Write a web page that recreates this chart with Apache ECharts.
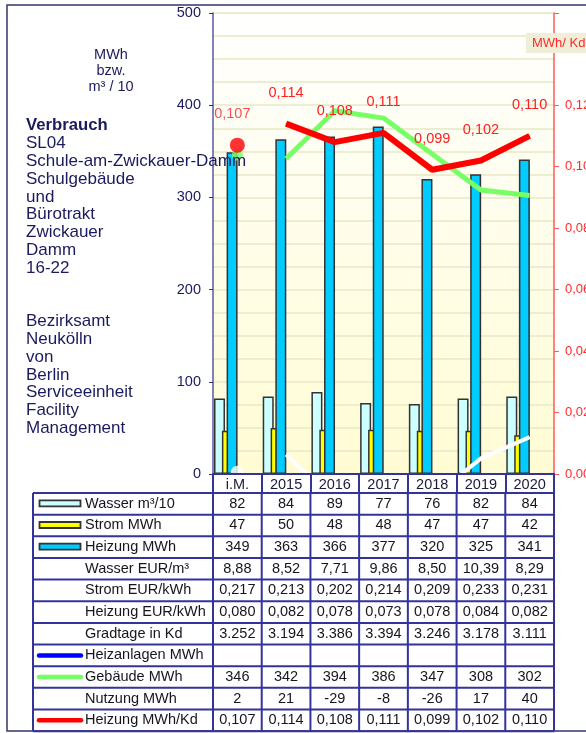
<!DOCTYPE html>
<html>
<head>
<meta charset="UTF-8">
<title>Verbrauch SL04</title>
<script src="https://cdn.jsdelivr.net/npm/echarts@6/dist/echarts.min.js"></script>
<style>
  html, body { margin: 0; padding: 0; background: #fff; }
  #main { width: 586px; height: 733px; }
</style>
</head>
<body>
<div id="main"></div>
<script type="text/javascript">
var categories = ['i.M.', '2015', '2016', '2017', '2018', '2019', '2020'];
var wasser = [82, 84, 89, 77, 76, 82, 84];
var strom = [47, 50, 48, 48, 47, 47, 42];
var heizung = [349, 363, 366, 377, 320, 325, 341];
var wasserEur = [8.88, 8.52, 7.71, 9.86, 8.50, 10.39, 8.29];
var stromEur = [0.217, 0.213, 0.202, 0.214, 0.209, 0.233, 0.231];
var heizungEur = [0.080, 0.082, 0.078, 0.073, 0.078, 0.084, 0.082];
var gradtage = [3252, 3194, 3386, 3394, 3246, 3178, 3111];
var heizanlagen = [null, null, null, null, null, null, null];
var gebaeude = [346, 342, 394, 386, 347, 308, 302];
var nutzung = [2, 21, -29, -8, -26, 17, 40];
var heizungKd = [0.107, 0.114, 0.108, 0.111, 0.099, 0.102, 0.110];

var infoLines = ['SL04', 'Schule-am-Zwickauer-Damm', 'Schulgebäude', 'und', 'Bürotrakt',
    'Zwickauer', 'Damm', '16-22', '', '', 'Bezirksamt', 'Neukölln', 'von', 'Berlin',
    'Serviceeinheit', 'Facility', 'Management'];

var FONT = '"Liberation Sans", Arial, sans-serif';
var NAVY = '#33339a';

function dec(n) { return function (v) { return v.toFixed(n).replace('.', ','); }; }
function thousands(v) { return String(v).replace(/\B(?=(\d{3})+(?!\d))/g, '.'); }
function plain(v) { return String(v); }
// i.M. is drawn as a separate dot, the years as a line
function skipFirst(arr) { return arr.map(function (v, i) { return i === 0 ? null : v; }); }

var chart = echarts.init(document.getElementById('main'));

var option = {
    animation: false,
    backgroundColor: '#fff',
    grid: {
        left: 213, right: 32, top: 13, bottom: 259,
        outerBoundsMode: 'none',
        show: true, borderWidth: 0,
        backgroundColor: new echarts.graphic.LinearGradient(0, 0, 0, 1, [
            { offset: 0, color: '#ffffff' },
            { offset: 1, color: '#fffcd4' }
        ])
    },
    xAxis: {
        type: 'category',
        data: categories,
        z: 5,
        axisLine: { lineStyle: { color: NAVY, width: 2 } },
        axisTick: { show: true, interval: 0, length: 19, lineStyle: { color: NAVY, width: 2 } },
        axisLabel: { interval: 0, color: '#1a1a3a', fontSize: 14.5, fontFamily: FONT, margin: 3 }
    },
    yAxis: [{
        type: 'value', min: 0, max: 500, interval: 100,
        axisLine: { show: true, lineStyle: { color: '#5a5aa0', width: 1.5 } },
        axisTick: { show: true, length: 4, lineStyle: { color: '#33336b' } },
        axisLabel: { color: '#1a1a5e', fontSize: 14.5, fontFamily: FONT, margin: 12 },
        splitLine: { show: true, lineStyle: { color: '#ededcf', width: 2 } },
        minorTick: { show: false, splitNumber: 4 },
        minorSplitLine: { show: true, lineStyle: { color: '#ededcf', width: 2 } }
    }, {
        type: 'value', min: 0, max: 0.15, interval: 0.02, position: 'right',
        axisLine: { show: true, lineStyle: { color: '#ff5a5a', width: 1.5 } },
        axisTick: { show: true, length: 5, lineStyle: { color: '#ff5a5a' } },
        axisLabel: {
            color: '#ff2a2a', fontSize: 13, fontFamily: FONT, margin: 11,
            formatter: function (v) { return v > 0.13 ? '' : v.toFixed(2).replace('.', ','); }
        },
        splitLine: { show: false }
    }],
    series: [
        { name: 'Wasser m³/10', type: 'bar', data: wasser, barWidth: 11, barGap: '-28%',
          itemStyle: { color: '#ccffff', borderColor: '#333', borderWidth: 1.5 } },
        { name: 'Strom MWh', type: 'bar', data: strom, barWidth: 6.5, barGap: '-28%',
          itemStyle: { color: '#ffff00', borderColor: '#333', borderWidth: 1.5 } },
        { name: 'Heizung MWh', type: 'bar', data: heizung, barWidth: 11, barGap: '-28%',
          itemStyle: { color: '#00ccff', borderColor: '#333', borderWidth: 1.5 } },
        // empty spacer so the bars sit in the left half of each category
        { name: 'spacer', type: 'bar', data: [], barWidth: 26.2, barGap: '-28%', silent: true,
          itemStyle: { color: 'transparent' } },
        { name: 'Gebäude MWh', type: 'line', data: skipFirst(gebaeude), symbol: 'none',
          lineStyle: { color: '#77ff66', width: 5 } },
        { name: 'Gebäude i.M.', type: 'scatter', data: [[0, gebaeude[0]]], symbolSize: 11,
          itemStyle: { color: '#77ff66' } },
        { name: 'Nutzung MWh', type: 'line', data: skipFirst(nutzung), symbol: 'none',
          lineStyle: { color: '#ffffff', width: 4 } },
        { name: 'Nutzung i.M.', type: 'scatter', data: [[0, nutzung[0]]], symbolSize: 13,
          itemStyle: { color: '#ffffff' } },
        { name: 'Heizung MWh/Kd', type: 'line', yAxisIndex: 1, data: skipFirst(heizungKd),
          symbol: 'circle', symbolSize: 1, showSymbol: true,
          lineStyle: { color: '#ff0000', width: 6 }, itemStyle: { color: '#ff0000' },
          label: { show: true, position: 'top', distance: 23, color: '#ff2020',
                   fontSize: 14.5, fontFamily: FONT, formatter: function (p) { return dec(3)(p.value); } } },
        { name: 'Heizung MWh/Kd i.M.', type: 'scatter', yAxisIndex: 1, data: [[0, heizungKd[0]]],
          symbolSize: 15, itemStyle: { color: '#ff0000' },
          label: { show: true, position: 'top', distance: 16, offset: [-5, 0], color: '#ff2020',
                   fontSize: 14.5, fontFamily: FONT, formatter: function (p) { return dec(3)(p.value[1]); } } }
    ]
};
chart.setOption(option);

// table under the plot, columns taken from the category axis
var rows = [
    { label: 'Wasser m³/10', values: wasser, fmt: plain, bar: '#ccffff' },
    { label: 'Strom MWh', values: strom, fmt: plain, bar: '#ffff00' },
    { label: 'Heizung MWh', values: heizung, fmt: plain, bar: '#00ccff' },
    { label: 'Wasser EUR/m³', values: wasserEur, fmt: dec(2) },
    { label: 'Strom EUR/kWh', values: stromEur, fmt: dec(3) },
    { label: 'Heizung EUR/kWh', values: heizungEur, fmt: dec(3) },
    { label: 'Gradtage in Kd', values: gradtage, fmt: thousands },
    { label: 'Heizanlagen MWh', values: heizanlagen, fmt: plain, line: '#0000ff' },
    { label: 'Gebäude MWh', values: gebaeude, fmt: plain, line: '#77ff66' },
    { label: 'Nutzung MWh', values: nutzung, fmt: plain },
    { label: 'Heizung MWh/Kd', values: heizungKd, fmt: dec(3), line: '#ff0000' }
];

var y0 = chart.convertToPixel({ yAxisIndex: 0 }, 0);
var c0 = chart.convertToPixel({ xAxisIndex: 0 }, 0);
var band = chart.convertToPixel({ xAxisIndex: 0 }, 1) - c0;
var tableTop = y0 + 19;
var rowH = 21.65;
var labelLeft = 33;
var colLeft = c0 - band / 2;
var tableRight = colLeft + band * categories.length;
var tableBottom = tableTop + rowH * rows.length;

var g = [];
g.push({ type: 'rect', z: 1, shape: { x: 7, y: 5, width: 620, height: 726 },
         style: { fill: 'none', stroke: '#35356f', lineWidth: 1.5 } });

g.push({ type: 'text', z: 10, style: { text: 'Verbrauch', x: 26, y: 125.7, fill: '#1a1a5e',
         font: 'bold 16.7px ' + FONT, textVerticalAlign: 'middle' } });
g.push({ type: 'text', z: 10, style: { text: infoLines.join('\n'), x: 26, y: 143.5 - 8.9,
         lineHeight: 17.8, fill: '#1a1a5e', font: '17px ' + FONT, textVerticalAlign: 'top' } });

g.push({ type: 'text', z: 10, style: { text: 'MWh\nbzw.\nm³ / 10', x: 111, y: 47, lineHeight: 16,
         fill: '#1a1a5e', font: '14.5px ' + FONT, textAlign: 'center', textVerticalAlign: 'top' } });

g.push({ type: 'rect', z: 10, shape: { x: 526, y: 33, width: 70, height: 20 }, style: { fill: '#efefd8' } });
g.push({ type: 'text', z: 11, style: { text: 'MWh/ Kd', x: 532, y: 43.5, fill: '#ff2a2a',
         font: '13px ' + FONT, textVerticalAlign: 'middle' } });

rows.forEach(function (row, r) {
    var top = tableTop + r * rowH;
    var mid = top + rowH / 2;
    if (row.bar) {
        g.push({ type: 'rect', z: 10, shape: { x: 39.5, y: mid - 3.5, width: 41, height: 6 },
                 style: { fill: row.bar, stroke: '#333', lineWidth: 1.8 } });
    } else if (row.line) {
        g.push({ type: 'line', z: 10, shape: { x1: 39, y1: mid, x2: 81, y2: mid },
                 style: { stroke: row.line, lineWidth: 4.5, lineCap: 'round' } });
    }
    g.push({ type: 'text', z: 10, style: { text: row.label, x: 85, y: mid, fill: '#151520',
             font: '14.5px ' + FONT, textVerticalAlign: 'middle' } });
    row.values.forEach(function (v, i) {
        if (v === null) return;
        g.push({ type: 'text', z: 10, style: { text: row.fmt(v), x: colLeft + band * (i + 0.5), y: mid,
                 fill: '#151520', font: '14.5px ' + FONT, textAlign: 'center', textVerticalAlign: 'middle' } });
    });
});

for (var r = 0; r <= rows.length; r++) {
    var yy = tableTop + r * rowH;
    g.push({ type: 'line', z: 9, shape: { x1: labelLeft, y1: yy, x2: tableRight, y2: yy },
             style: { stroke: NAVY, lineWidth: 2 } });
}
var xs = [labelLeft];
for (var i = 0; i <= categories.length; i++) xs.push(colLeft + band * i);
xs.forEach(function (xx) {
    g.push({ type: 'line', z: 9, shape: { x1: xx, y1: tableTop, x2: xx, y2: tableBottom },
             style: { stroke: NAVY, lineWidth: 2 } });
});

chart.setOption({ graphic: g });
</script>
</body>
</html>
